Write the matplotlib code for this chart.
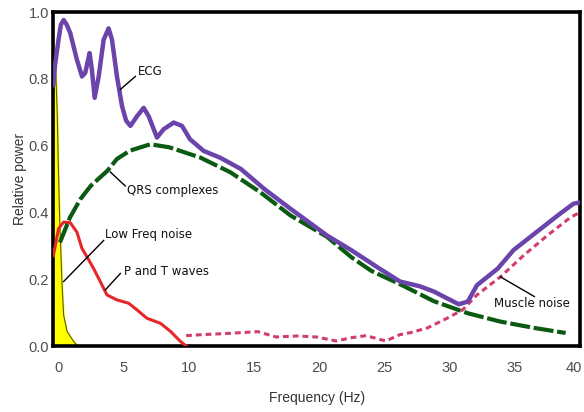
import matplotlib
matplotlib.use("Agg")
import matplotlib.pyplot as plt
from matplotlib.transforms import ScaledTranslation

### ECG power spectrum
ecg_f = [-0.38, -0.25, 0.02, 0.2, 0.41, 0.65, 0.92, 1.43, 1.82, 2.07, 2.25, 2.4, 2.58, 2.79,
         3.1, 3.48, 3.86, 4.12, 4.5, 4.89, 5.2, 5.53, 6.04, 6.55, 6.93, 7.57, 8.08, 8.85,
         9.49, 10.1, 11.15, 12.4, 14.0, 15.8, 17.8, 20.6, 22.5, 24.5, 26.2, 27.7, 28.8,
         29.8, 30.7, 31.4, 32.1, 33.7, 34.9, 36.5, 38.3, 39.5, 40.0]
ecg_p = [0.78, 0.84, 0.917, 0.962, 0.976, 0.962, 0.937, 0.857, 0.807, 0.818, 0.85, 0.877,
         0.827, 0.743, 0.807, 0.917, 0.951, 0.917, 0.807, 0.718, 0.675, 0.659, 0.688,
         0.713, 0.688, 0.624, 0.649, 0.669, 0.659, 0.619, 0.584, 0.564, 0.530, 0.470,
         0.411, 0.331, 0.286, 0.235, 0.193, 0.179, 0.163, 0.143, 0.125, 0.133, 0.182,
         0.232, 0.287, 0.336, 0.391, 0.426, 0.43]

### QRS complexes
qrs_f = [0.13, 0.9, 1.7, 2.5, 3.75, 4.5, 5.5, 7.06, 8.5, 9.36, 10.9, 13.2, 15.5, 17.8,
         20.6, 22.5, 24.0, 26.2, 28.8, 31.4, 33.9, 36.5, 38.9]
qrs_p = [0.31, 0.385, 0.44, 0.48, 0.524, 0.56, 0.585, 0.604, 0.595, 0.584, 0.564, 0.520,
         0.460, 0.391, 0.327, 0.265, 0.225, 0.185, 0.134, 0.098, 0.073, 0.054, 0.039]

### P and T waves
pt_f = [-0.38, -0.23, 0.02, 0.41, 0.92, 1.43, 1.82, 2.2, 2.71, 3.22, 3.73, 4.5, 5.4, 6.04,
        6.8, 7.83, 8.6, 9.36, 9.8]
pt_p = [0.27, 0.30, 0.351, 0.371, 0.369, 0.341, 0.292, 0.267, 0.232, 0.193, 0.153, 0.138,
        0.128, 0.108, 0.083, 0.068, 0.044, 0.014, 0.0]

### muscle noise
mus_f = [9.8, 11.0, 12.7, 14.0, 15.3, 16.7, 18.3, 19.8, 21.3, 22.5, 23.6, 25.1, 26.2, 27.0,
         28.3, 29.8, 31.0, 32.1, 33.9, 35.7, 37.5, 39.3, 40.0]
mus_p = [0.031, 0.034, 0.037, 0.040, 0.043, 0.027, 0.030, 0.027, 0.015, 0.025, 0.031, 0.015,
         0.034, 0.040, 0.054, 0.083, 0.108, 0.153, 0.207, 0.272, 0.331, 0.386, 0.40]

### low frequency noise
lf_f = [-0.38, -0.2, -0.08, 0.0, 0.1, 0.28, 0.41, 0.67, 1.17, 1.5]
lf_p = [0.84, 0.83, 0.70, 0.55, 0.39, 0.193, 0.093, 0.044, 0.014, 0.0]

x_ticks = [0, 5, 10, 15, 20, 25, 30, 35, 40]
y_ticks = [0.0, 0.2, 0.4, 0.6, 0.8, 1.0]

fig = plt.figure(figsize=(5.84, 4.12), dpi=100)
ax = fig.add_axes([53.3 / 584, 66 / 412, (580 - 53.3) / 584, 334 / 412])

ax.fill_between(lf_f, lf_p, 0, color="#ffff00", zorder=1)
ax.plot(lf_f, lf_p, color="#5a5a10", lw=0.8, zorder=2)
ax.plot(pt_f, pt_p, color="#e8262a", lw=2.2, zorder=3, solid_joinstyle="round")
ax.plot(qrs_f, qrs_p, color="#0b5a12", lw=3, dashes=(4.8, 0.9), zorder=4)
ax.plot(mus_f, mus_p, color="#d43c70", lw=2.2, dashes=(1.9, 1.3), zorder=4)
ax.plot(ecg_f, ecg_p, color="#6a44aa", lw=3.2, zorder=5, solid_joinstyle="round",
        solid_capstyle="round")

# labels with leader lines
notes = [
    ("ECG", (6.09, 0.822), [(4.76, 5.91), (0.768, 0.807)]),
    ("QRS complexes", (5.3, 0.467), [(3.99, 5.14), (0.521, 0.479)]),
    ("Low Freq noise", (3.55, 0.333), [(0.41, 3.48), (0.193, 0.316)]),
    ("P and T waves", (5.01, 0.224), [(3.61, 4.76), (0.168, 0.217)]),
    ("Muscle noise", (33.4, 0.128), [(33.9, 36.5), (0.207, 0.148)]),
]
for txt, (tx, ty), (lx, ly) in notes:
    ax.plot(lx, ly, color="black", lw=1.0, zorder=6)
    ax.text(tx, ty, txt, ha="left", va="center", fontsize=8.5, color="#111111",
            family="DejaVu Sans", zorder=7)

ax.set_xlim(-0.38, 40.0)
ax.set_ylim(0, 1.0)
ax.set_xticks(x_ticks)
ax.set_yticks(y_ticks)
ax.set_xticklabels([str(t) for t in x_ticks])
ax.set_yticklabels([f"{t:.1f}" for t in y_ticks])
ax.tick_params(axis="both", length=0, labelsize=10.5, labelcolor="#4d4d4d")
ax.tick_params(axis="x", pad=11)
ax.tick_params(axis="y", pad=3)
for lab in ax.get_xticklabels() + ax.get_yticklabels():
    lab.set_family("Liberation Sans")

# keep the last x label inside the canvas
last = ax.get_xticklabels()[-1]
last.set_transform(last.get_transform() + ScaledTranslation(-6 / 100, 0, fig.dpi_scale_trans))

for s in ax.spines.values():
    s.set_linewidth(2.6)
    s.set_color("black")

ax.set_xlabel("Frequency (Hz)", fontsize=10, color="#333333", family="Liberation Sans",
              labelpad=11)
ax.set_ylabel("Relative power", fontsize=10, color="#333333", family="Liberation Sans",
              labelpad=1)

fig.savefig("out.png", dpi=100)
